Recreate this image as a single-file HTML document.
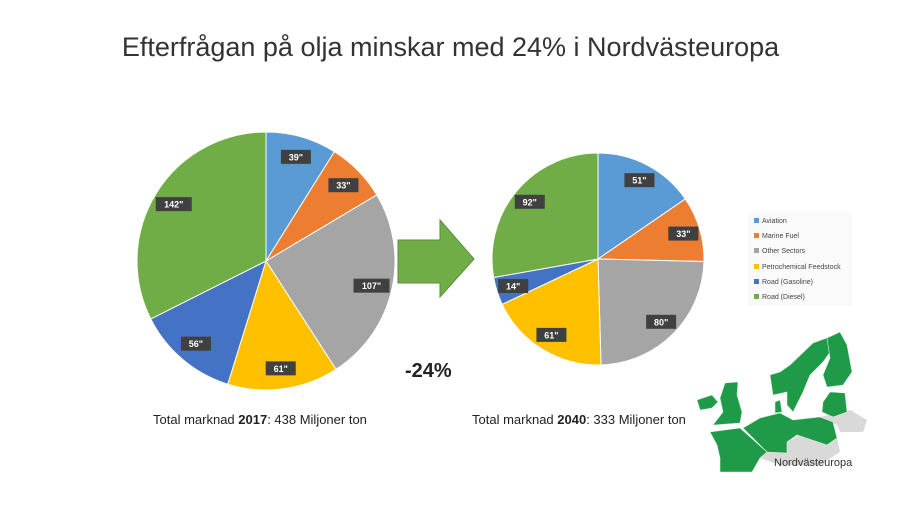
<!DOCTYPE html>
<html><head><meta charset="utf-8"><style>
body{margin:0;width:901px;height:507px;background:#fff;font-family:"Liberation Sans",sans-serif;position:relative;overflow:hidden}
.t{position:absolute;white-space:nowrap}
</style></head><body>
<div class="t" style="left:0;width:901px;top:32px;text-align:center;font-size:27px;color:#333;font-family:'Liberation Sans',sans-serif">Efterfrågan på olja minskar med 24% i Nordvästeuropa</div>
<svg id="chart" width="901" height="507" style="position:absolute;left:0;top:0">
<polygon points="398,240 440,240 440,220 474,259 440,297 440,283 398,283" fill="#70ad47" stroke="#5a8f38" stroke-width="1"/>
<g stroke="#d8efd8" stroke-width="0.6">
<polygon fill="#d9d9d9" stroke="none" points="820,417 850,410 867,420 863,432 840,432 837,425"/>
<polygon fill="#d9d9d9" stroke="none" points="787,442 800,435 827,445 837,438 840,452 820,465 780,465 760,458 767,452"/>
<polygon fill="#1e9a48" points="770,375 780,372 790,365 813,343 827,338 830,352 823,362 810,375 803,392 793,412 787,405 787,392 773,395"/>
<polygon fill="#1e9a48" points="827,338 840,332 847,345 852,372 843,385 827,387 823,375 830,358"/>
<polygon fill="#1e9a48" points="830,392 845,393 847,412 833,417 822,412 823,402"/>
<polygon fill="#1e9a48" points="775,402 780,400 782,412 775,413"/>
<polygon fill="#1e9a48" points="743,428 760,418 780,413 793,420 820,417 833,422 837,438 827,445 797,435 787,442 787,453 767,452"/>
<polygon fill="#1e9a48" points="710,432 740,428 767,452 760,458 752,472 737,472 720,472 720,458 717,445"/>
<polygon fill="#1e9a48" points="725,383 738,382 737,395 742,412 740,423 713,425 723,412 720,398"/>
<polygon fill="#1e9a48" points="697,400 712,395 718,402 712,408 700,410"/>
</g>
</svg>
<div class="t" style="left:774px;top:457px;font-size:11px;color:#333">Nordvästeuropa</div>
<div class="t" style="left:405px;top:360px;font-size:20px;font-weight:bold;color:#222">-24%</div>
<div class="t" style="left:153px;top:412px;font-size:13px;color:#222">Total marknad <b>2017</b>: 438 Miljoner ton</div>
<div class="t" style="left:472px;top:412px;font-size:13px;color:#222">Total marknad <b>2040</b>: 333 Miljoner ton</div>
<div style="position:absolute;left:748px;top:212px;width:98px;height:92px;background:#fafafa;font-size:7px;color:#444;line-height:15.2px;padding:2px 0 0 6px" id="legend"></div>
<script>
const categories=["Aviation","Marine Fuel","Other Sectors","Petrochemical Feedstock","Road (Gasoline)","Road (Diesel)"];
const colors=["#5b9bd5","#ed7d31","#a5a5a5","#ffc000","#4472c4","#70ad47"];
const values2017=[39,33,107,61,56,142];
const values2040=[51,33,80,61,14,92];
const svg=document.getElementById('chart');const NS="http://www.w3.org/2000/svg";
function pie(vals,cx,cy,r,name){
 const tot=vals.reduce((a,b)=>a+b,0);let a=0;
 vals.forEach((v,i)=>{
  const a0=a/tot*2*Math.PI,a1=(a+v)/tot*2*Math.PI;a+=v;
  const x0=cx+r*Math.sin(a0),y0=cy-r*Math.cos(a0),x1=cx+r*Math.sin(a1),y1=cy-r*Math.cos(a1);
  const p=document.createElementNS(NS,'path');
  p.setAttribute('d',`M${cx},${cy}L${x0},${y0}A${r},${r} 0 ${a1-a0>Math.PI?1:0} 1 ${x1},${y1}Z`);
  p.setAttribute('fill',colors[i]);p.setAttribute('stroke','#fff');p.setAttribute('stroke-width','1');
  
  
  svg.appendChild(p);
  const m=(a0+a1)/2,lr=r*0.84,lx=cx+lr*Math.sin(m),ly=cy-lr*Math.cos(m);
  const txt=v+"''";const w=txt.length*6+6;
  const b=document.createElementNS(NS,'rect');
  b.setAttribute('x',lx-w/2);b.setAttribute('y',ly-7);b.setAttribute('width',w);b.setAttribute('height',14);b.setAttribute('fill','#404040');
  
  
  svg.appendChild(b);
  const t=document.createElementNS(NS,'text');
  t.setAttribute('x',lx);t.setAttribute('y',ly+3.5);t.setAttribute('text-anchor','middle');t.setAttribute('fill','#fff');t.setAttribute('font-size','9');t.setAttribute('font-weight','bold');t.setAttribute('font-family','Liberation Sans, sans-serif');
  t.textContent=v+'"';
  
  
  svg.appendChild(t);
 });
}
pie(values2017,266,261,129,'2017');
pie(values2040,598,259,106,'2040');
const lg=document.getElementById('legend');
categories.forEach((c,i)=>{
 const d=document.createElement('div');
 d.innerHTML=`<span style="display:inline-block;width:5px;height:5px;background:${colors[i]};margin-right:3px"></span>${c}`;
 
 
 lg.appendChild(d);
});
</script>
</body></html>
